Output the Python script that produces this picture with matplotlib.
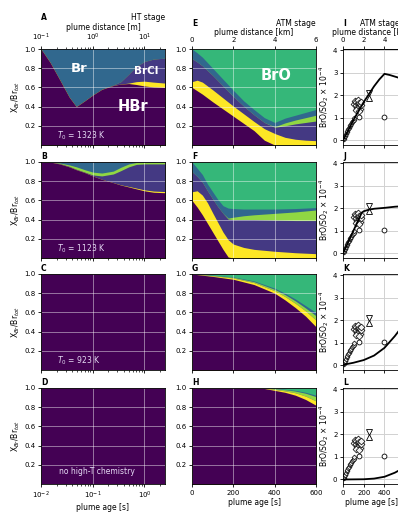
import numpy as np
import matplotlib.pyplot as plt

plt.rcParams.update({
    'font.size': 5.5, 'xtick.labelsize': 5, 'ytick.labelsize': 5,
    'axes.labelsize': 5.5, 'axes.titlesize': 5.5, 'axes.linewidth': 0.6,
    'xtick.major.size': 2.5, 'ytick.major.size': 2.5,
    'xtick.minor.size': 1.5, 'ytick.minor.size': 1.5,
    'xtick.major.width': 0.6, 'ytick.major.width': 0.6,
    'xtick.minor.width': 0.5, 'xtick.major.pad': 1.5, 'ytick.major.pad': 1.5,
    'axes.labelpad': 1.5,
})

# layer order bottom -> top: HBr, Br2, BrCl, HOBr, Br, BrO (values = cumulative top of each layer)
vir = plt.get_cmap('viridis')
colors = [vir(0.0), vir(1.0), vir(1 / 6), vir(5 / 6), vir(2 / 6), vir(4 / 6)]

# ---- HT stage (plume age in s) ----
t_ht = [0.01, 0.015, 0.023, 0.035, 0.048, 0.07, 0.1, 0.15, 0.25, 0.35, 0.5, 0.7, 1.0, 1.5, 2.5]

a_hbr = [1.00, 0.86, 0.68, 0.50, 0.40, 0.46, 0.52, 0.58, 0.62, 0.635, 0.64, 0.63, 0.615, 0.605, 0.60]
a_br2 = [1.00, 0.86, 0.68, 0.50, 0.40, 0.46, 0.52, 0.58, 0.62, 0.635, 0.645, 0.66, 0.665, 0.655, 0.645]
a_brcl = [1.00, 0.86, 0.68, 0.50, 0.40, 0.46, 0.52, 0.58, 0.625, 0.66, 0.74, 0.82, 0.87, 0.895, 0.905]
a_hobr = [1.00, 0.86, 0.68, 0.50, 0.40, 0.46, 0.52, 0.58, 0.625, 0.66, 0.74, 0.82, 0.87, 0.895, 0.905]
a_br = [1.0] * 15

b_hbr = [1.00, 1.00, 0.98, 0.95, 0.92, 0.89, 0.855, 0.82, 0.785, 0.76, 0.74, 0.72, 0.70, 0.685, 0.68]
b_br2 = [1.00, 1.00, 0.98, 0.95, 0.92, 0.89, 0.855, 0.82, 0.785, 0.762, 0.745, 0.728, 0.71, 0.697, 0.692]
b_brcl = [1.00, 1.00, 0.985, 0.955, 0.925, 0.895, 0.865, 0.855, 0.875, 0.91, 0.95, 0.975, 0.98, 0.98, 0.98]
b_hobr = [1.00, 1.00, 0.99, 0.97, 0.95, 0.92, 0.895, 0.885, 0.905, 0.945, 0.98, 0.995, 0.995, 0.995, 0.995]
b_br = [1.0] * 15

c_time = [0.01, 2.5]
c_hbr = [1.0, 1.0]
d_time = [0.01, 2.5]
d_hbr = [1.0, 1.0]

# ---- ATM stage (plume age in s) ----
t_e = [0, 25, 50, 100, 150, 200, 250, 300, 350, 400, 450, 500, 550, 600]
e_hbr = [0.60, 0.565, 0.53, 0.45, 0.375, 0.30, 0.225, 0.15, 0.05, 0.0, 0.0, 0.0, 0.0, 0.0]
e_br2 = [0.66, 0.675, 0.655, 0.575, 0.49, 0.405, 0.325, 0.245, 0.17, 0.12, 0.08, 0.06, 0.05, 0.045]
e_brcl = [0.90, 0.865, 0.825, 0.725, 0.615, 0.505, 0.405, 0.315, 0.235, 0.185, 0.20, 0.22, 0.235, 0.25]
e_hobr = [0.90, 0.865, 0.825, 0.725, 0.615, 0.505, 0.405, 0.315, 0.235, 0.19, 0.23, 0.26, 0.285, 0.31]
e_br = [1.00, 0.96, 0.915, 0.80, 0.685, 0.57, 0.46, 0.37, 0.285, 0.235, 0.28, 0.31, 0.34, 0.37]

t_f = [0, 25, 50, 75, 100, 125, 150, 175, 200, 250, 300, 400, 500, 600]
f_hbr = [0.60, 0.53, 0.45, 0.36, 0.27, 0.18, 0.09, 0.01, 0.0, 0.0, 0.0, 0.0, 0.0, 0.0]
f_br2 = [0.69, 0.70, 0.655, 0.575, 0.47, 0.37, 0.27, 0.19, 0.145, 0.11, 0.09, 0.07, 0.055, 0.045]
f_brcl = [0.90, 0.85, 0.79, 0.70, 0.615, 0.535, 0.465, 0.405, 0.40, 0.40, 0.40, 0.395, 0.39, 0.39]
f_hobr = [0.90, 0.85, 0.79, 0.70, 0.615, 0.535, 0.465, 0.415, 0.425, 0.44, 0.45, 0.465, 0.48, 0.50]
f_br = [1.00, 0.935, 0.87, 0.77, 0.69, 0.61, 0.545, 0.52, 0.515, 0.51, 0.51, 0.51, 0.515, 0.525]

t_g = [0, 100, 200, 300, 400, 450, 500, 550, 600]
g_hbr = [1.0, 0.975, 0.945, 0.89, 0.80, 0.73, 0.65, 0.56, 0.45]
g_br2 = [1.0, 0.982, 0.958, 0.91, 0.825, 0.765, 0.695, 0.615, 0.52]
g_brcl = [1.0, 0.982, 0.958, 0.91, 0.825, 0.765, 0.695, 0.615, 0.52]
g_hobr = [1.0, 0.985, 0.965, 0.92, 0.84, 0.785, 0.72, 0.645, 0.565]
g_br = [1.0, 0.988, 0.97, 0.928, 0.852, 0.80, 0.74, 0.67, 0.60]

t_h = [0, 300, 350, 400, 450, 500, 550, 600]
h_hbr = [1.0, 1.0, 0.995, 0.975, 0.955, 0.925, 0.88, 0.82]
h_br2 = [1.0, 1.0, 0.998, 0.985, 0.97, 0.95, 0.915, 0.865]
h_brcl = [1.0, 1.0, 0.998, 0.985, 0.97, 0.95, 0.915, 0.865]
h_hobr = [1.0, 1.0, 1.0, 0.992, 0.982, 0.968, 0.945, 0.91]
h_br = [1.0, 1.0, 1.0, 0.995, 0.987, 0.975, 0.955, 0.925]

# ---- BrO/SO2 model runs (x 1e-4) ----
i_t = [0, 50, 100, 150, 200, 250, 300, 350, 400, 450, 500, 550, 600]
i_bro = [0, 0.45, 0.9, 1.3, 1.7, 2.05, 2.4, 2.7, 2.95, 2.9, 2.83, 2.76, 2.7]
j_t = [0, 50, 100, 150, 180, 200, 250, 300, 400, 500, 600]
j_bro = [0, 0.5, 1.0, 1.5, 1.8, 1.87, 1.94, 1.98, 2.02, 2.07, 2.1]
k_t = [0, 100, 200, 300, 400, 500, 600]
k_bro = [0.03, 0.12, 0.24, 0.44, 0.78, 1.3, 1.9]
l_t = [0, 200, 300, 400, 500, 600]
l_bro = [0, 0.01, 0.04, 0.12, 0.3, 0.55]

# observations
obs_diag_t = [5, 10, 15, 20, 28, 35, 42, 50, 58, 65, 72, 80, 88, 95, 102, 110]
obs_diag_y = [0.05, 0.12, 0.18, 0.22, 0.30, 0.38, 0.42, 0.50, 0.55, 0.62, 0.70, 0.75, 0.82, 0.88, 0.92, 1.0]
obs_dia_t = [110, 120, 125, 130, 135, 140, 145, 150, 155, 160, 165, 170, 175, 130, 150]
obs_dia_y = [1.6, 1.75, 1.55, 1.7, 1.45, 1.65, 1.8, 1.5, 1.65, 1.4, 1.6, 1.55, 1.7, 1.35, 1.3]
obs_circ_t = [150, 400]
obs_circ_y = [1.02, 1.06]
obs_tri_t = [250, 250]
obs_tri_y = [2.12, 1.88]


def stack(ax, t, tops):
    # draw from top down so thin/zero layers leave no seams
    t = np.asarray(t, float)
    ax.fill_between(t, 0, 1, color=colors[5], lw=0)
    for top, c in reversed(list(zip(tops, colors))):
        ax.fill_between(t, 0, top, color=c, lw=0)


W, H = 398, 512
fig = plt.figure(figsize=(W / 100, H / 100), dpi=100)
lefts = [41, 192, 343]
widths = [124, 124, 57]
row_top = [49, 162, 274, 388]
ah = 96
axes = [[fig.add_axes([lefts[c] / W, 1 - (row_top[r] + ah) / H, widths[c] / W, ah / H])
         for c in range(3)] for r in range(4)]

txtc = '#e6dcf5'
ht_data = [(t_ht, [a_hbr, a_br2, a_brcl, a_hobr, a_br], '$T_0$ = 1323 K'),
           (t_ht, [b_hbr, b_br2, b_brcl, b_hobr, b_br], '$T_0$ = 1123 K'),
           (c_time, [c_hbr], '$T_0$ = 923 K'),
           (d_time, [d_hbr], None)]
atm_data = [(t_e, [e_hbr, e_br2, e_brcl, e_hobr, e_br]),
            (t_f, [f_hbr, f_br2, f_brcl, f_hobr, f_br]),
            (t_g, [g_hbr, g_br2, g_brcl, g_hobr, g_br]),
            (t_h, [h_hbr, h_br2, h_brcl, h_hobr, h_br])]
model = [(i_t, i_bro), (j_t, j_bro), (k_t, k_bro), (l_t, l_bro)]
letters = ['ABCD', 'EFGH', 'IJKL']

for r in range(4):
    # column 1: HT stage
    ax = axes[r][0]
    t, tops, txt = ht_data[r]
    stack(ax, t, tops)
    ax.set_xscale('log')
    ax.set_xlim(0.01, 2.5)
    ax.set_ylim(0, 1)
    ax.set_yticks([0.2, 0.4, 0.6, 0.8, 1.0])
    ax.grid(color='w', alpha=0.45, lw=0.7)
    ax.set_ylabel(r'X$_{Br}$/Br$_{tot}$')
    if txt:
        ax.text(0.13, 0.07, txt, transform=ax.transAxes, color=txtc, fontsize=5.5)
    else:
        ax.text(0.45, 0.1, 'no high-T chemistry', transform=ax.transAxes, color=txtc,
                fontsize=5.5, ha='center')

    # column 2: ATM stage
    ax = axes[r][1]
    t, tops = atm_data[r]
    stack(ax, t, tops)
    ax.set_xlim(0, 600)
    ax.set_ylim(0, 1)
    ax.set_xticks([0, 200, 400, 600])
    ax.set_yticks([0.2, 0.4, 0.6, 0.8, 1.0])
    ax.grid(color='w', alpha=0.45, lw=0.7)

    # column 3: BrO/SO2
    ax = axes[r][2]
    ax.grid(color='0.82', lw=0.7)
    ax.plot(obs_diag_t, obs_diag_y, 'D', ms=2.5, mfc='0.9', mec='k', mew=0.5)
    ax.plot(obs_dia_t, obs_dia_y, 'D', ms=3.5, mfc='0.95', mec='k', mew=0.5)
    ax.plot(obs_circ_t, obs_circ_y, 'o', ms=3.5, mfc='w', mec='k', mew=0.6)
    ax.plot(obs_tri_t[:1], obs_tri_y[:1], 'v', ms=4, mfc='w', mec='k', mew=0.6)
    ax.plot(obs_tri_t[1:], obs_tri_y[1:], '^', ms=4, mfc='w', mec='k', mew=0.6)
    ax.plot(*model[r], 'k-', lw=1.3)
    ax.set_xlim(0, 550)
    ax.set_ylim(-0.2, 4.05)
    ax.set_xticks([0, 200, 400])
    ax.set_yticks([0, 1, 2, 3, 4])
    ax.set_ylabel(r'BrO/SO$_2$ $\times$ 10$^{-4}$')

    for c in range(3):
        axes[r][c].set_title(letters[c][r], loc='left', fontweight='bold', pad=2)
        if r < 3:
            axes[r][c].tick_params(labelbottom=False)
        else:
            axes[r][c].set_xlabel('plume age [s]')

# top row: plume distance axes and stage titles
sec = axes[0][0].secondary_xaxis('top', functions=(lambda t: t * 10, lambda d: d / 10))
sec.set_xlabel('plume distance [m]', labelpad=1.5)
for c in (1, 2):
    sec = axes[0][c].secondary_xaxis('top', functions=(lambda t: t / 100, lambda d: d * 100))
    sec.set_xticks([0, 2, 4, 6])
    sec.set_xlabel('plume distance [km]', labelpad=1.5)
axes[0][0].set_title('HT stage', loc='right', pad=2)
axes[0][1].set_title('ATM stage', loc='right', pad=2)
axes[0][2].set_title('ATM stage', loc='right', pad=2)

# species labels
axes[0][0].text(0.31, 0.80, 'Br', transform=axes[0][0].transAxes, color='w',
                fontsize=9.5, fontweight='bold', ha='center', va='center')
axes[0][0].text(0.85, 0.77, 'BrCl', transform=axes[0][0].transAxes, color='w',
                fontsize=7.5, fontweight='bold', ha='center', va='center')
axes[0][0].text(0.74, 0.40, 'HBr', transform=axes[0][0].transAxes, color='w',
                fontsize=10.5, fontweight='bold', ha='center', va='center')
axes[0][1].text(0.68, 0.72, 'BrO', transform=axes[0][1].transAxes, color='w',
                fontsize=10.5, fontweight='bold', ha='center', va='center')

fig.savefig('out.png', dpi=100)
